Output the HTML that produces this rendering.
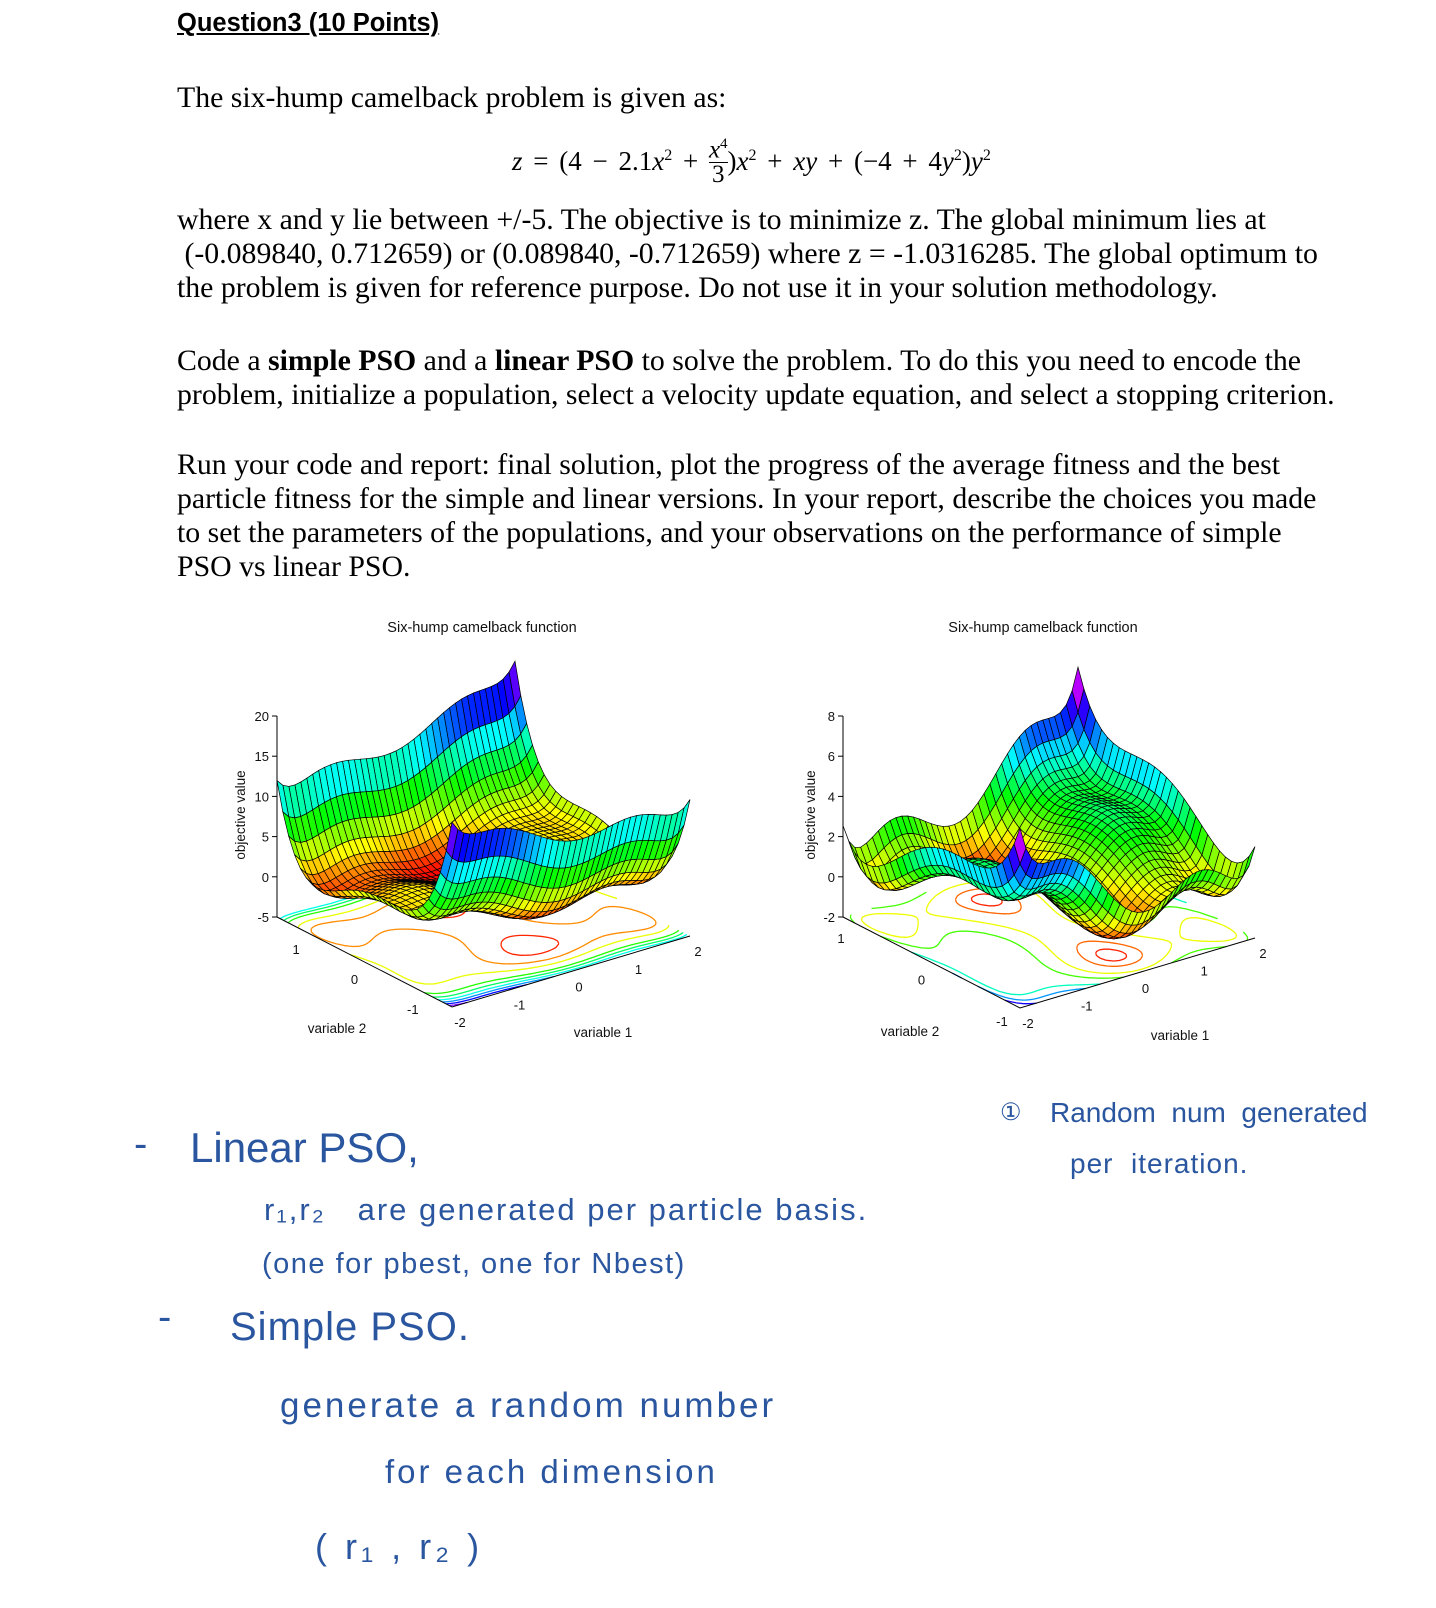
<!DOCTYPE html>
<html><head><meta charset="utf-8">
<style>
body{margin:0;background:#fff;}
#page{position:relative;width:1436px;height:1608px;overflow:hidden;background:#fff;font-family:"Liberation Serif",serif;color:#000;}
.t{position:absolute;white-space:nowrap;font-size:29.8px;line-height:34px;}
.hw{position:absolute;white-space:nowrap;font-family:"Liberation Sans",sans-serif;color:#2a56a0;font-weight:normal;}
svg text{font-family:"Liberation Sans",sans-serif;}
</style></head><body>
<div id="page">
<div class="t" style="left:177px;top:6px;font-family:'Liberation Sans',sans-serif;font-weight:bold;font-size:25.5px;text-decoration:underline;">Question3 (10 Points)</div>
<div class="t" style="left:177px;top:81px;">The six-hump camelback problem is given as:</div>
<div class="t" style="left:512px;top:136px;font-size:27px;word-spacing:4px;"><i>z</i> = (4 − 2.1<i>x</i><sup style="font-size:16px">2</sup> + <span style="display:inline-block;vertical-align:middle;text-align:center;line-height:24px;font-size:25px;position:relative;top:-4px"><span style="display:block;border-bottom:1px solid #000"><i>x</i><sup style="font-size:15px">4</sup></span><span style="display:block">3</span></span>)<i>x</i><sup style="font-size:16px">2</sup> + <i>xy</i> + (−4 + 4<i>y</i><sup style="font-size:16px">2</sup>)<i>y</i><sup style="font-size:16px">2</sup></div>
<div class="t" style="left:177px;top:203px;">where x and y lie between +/-5. The objective is to minimize z. The global minimum lies at<br>&nbsp;(-0.089840, 0.712659) or (0.089840, -0.712659) where z = -1.0316285. The global optimum to<br>the problem is given for reference purpose. Do not use it in your solution methodology.</div>
<div class="t" style="left:177px;top:344px;">Code a <b>simple PSO</b> and a <b>linear PSO</b> to solve the problem. To do this you need to encode the<br>problem, initialize a population, select a velocity update equation, and select a stopping criterion.</div>
<div class="t" style="left:177px;top:448px;">Run your code and report: final solution, plot the progress of the average fitness and the best<br>particle fitness for the simple and linear versions. In your report, describe the choices you made<br>to set the parameters of the populations, and your observations on the performance of simple<br>PSO vs linear PSO.</div>

<svg id="plots" width="1436" height="1608" style="position:absolute;left:0;top:0;pointer-events:none"></svg>

<div class="hw" style="left:134px;top:1122px;font-size:40px;">-</div>
<div class="hw" style="left:190px;top:1124px;font-size:42px;">Linear PSO,</div>
<div class="hw" style="left:264px;top:1192px;font-size:31px;letter-spacing:2px;">r₁,r₂ &nbsp;&nbsp;are generated per particle basis.</div>
<div class="hw" style="left:262px;top:1248px;font-size:29px;letter-spacing:1.5px;">(one for pbest, one for Nbest)</div>
<div class="hw" style="left:158px;top:1295px;font-size:40px;">-</div>
<div class="hw" style="left:230px;top:1305px;font-size:40px;letter-spacing:1px;">Simple PSO.</div>
<div class="hw" style="left:280px;top:1386px;font-size:35px;letter-spacing:3px;">generate a random number</div>
<div class="hw" style="left:385px;top:1453px;font-size:33px;letter-spacing:3px;">for each dimension</div>
<div class="hw" style="left:315px;top:1526px;font-size:36px;letter-spacing:4px;">( r₁ , r₂ )</div>
<div class="hw" style="left:1000px;top:1098px;font-size:24px;">①</div>
<div class="hw" style="left:1050px;top:1097px;font-size:28px;">Random &nbsp;num &nbsp;generated</div>
<div class="hw" style="left:1070px;top:1148px;font-size:28px;letter-spacing:1px;">per &nbsp;iteration.</div>
</div>
<script>
// chart data
const plotTitles = ["Six-hump camelback function","Six-hump camelback function"];
const xRange = [-2, 2];
const yRangeLeft = [-1.5, 1.5];
const yRangeRight = [-1.1, 1.1];
const zTicksLeft = [-5, 0, 5, 10, 15, 20];
const zTicksRight = [-2, 0, 2, 4, 6, 8];
const xTicks = [-2, -1, 0, 1, 2];
const yTicksLeft = [1, 0, -1];
const yTicksRight = [1, 0, -1];
const contourLevelsLeft = [-0.5, 1, 3, 6, 8, 10, 12, 14, 16];
const contourLevelsRight = [-0.9, -0.5, 0.5, 1.5, 3, 4, 5];

const NS="http://www.w3.org/2000/svg";
const svg=document.getElementById('plots');
function f(x,y){return (4-2.1*x*x+Math.pow(x,4)/3)*x*x+x*y+(-4+4*y*y)*y*y;}
function mk(tag,attrs,parent){const e=document.createElementNS(NS,tag);for(const k in attrs)e.setAttribute(k,attrs[k]);(parent||svg).appendChild(e);return e;}

function drawPlot(cfg){
  const g=mk('g',{});
  
  
  const F=cfg.front,R=cfg.right,L=cfg.left;
  const [x0,x1]=xRange,[y0,y1]=cfg.yr;
  const zs=cfg.zscale, zf=cfg.zfloor;
  function floorP(x,y){const u=(x-x0)/(x1-x0),v=(y-y0)/(y1-y0);return [F[0]+u*(R[0]-F[0])+v*(L[0]-F[0]),F[1]+u*(R[1]-F[1])+v*(L[1]-F[1])];}
  function P(x,y,z){const p=floorP(x,y);return [p[0],p[1]-(z-zf)*zs];}
  function col(z){let t=(z-cfg.clo)/(cfg.chi-cfg.clo);t=Math.max(0,Math.min(1,t));return 'hsl('+(t*285).toFixed(0)+',100%,50%)';}
  const tt=mk('text',{x:cfg.titleX,y:632,'font-size':14.5,'text-anchor':'middle',fill:'#111'},g);tt.textContent=cfg.title;
  
  const nx=cfg.nx, ny=cfg.ny;
  const cn=60, cm=45;
  const cg=mk('g',{fill:'none','stroke-width':1.3},g);
  
  cfg.levels.forEach(lv=>{
    let d='';
    for(let i=0;i<cn;i++)for(let j=0;j<cm;j++){
      const xa=x0+(x1-x0)*i/cn, xb=x0+(x1-x0)*(i+1)/cn, ya=y0+(y1-y0)*j/cm, yb=y0+(y1-y0)*(j+1)/cm;
      const c=[[xa,ya,f(xa,ya)],[xb,ya,f(xb,ya)],[xb,yb,f(xb,yb)],[xa,yb,f(xa,yb)]];
      const pts=[];
      for(let k=0;k<4;k++){const a=c[k],b=c[(k+1)%4];if((a[2]-lv)*(b[2]-lv)<0){const t=(lv-a[2])/(b[2]-a[2]);pts.push(floorP(a[0]+t*(b[0]-a[0]),a[1]+t*(b[1]-a[1])));}}
      for(let k=0;k+1<pts.length;k+=2)d+='M'+pts[k][0].toFixed(1)+' '+pts[k][1].toFixed(1)+'L'+pts[k+1][0].toFixed(1)+' '+pts[k+1][1].toFixed(1);
    }
    if(d){const p=mk('path',{d:d,stroke:col(lv)},cg);}
  });
  const ax=mk('g',{stroke:'#000','stroke-width':1,fill:'none'},g);
  
  const Lc=floorP(x0,y1),Fc=floorP(x0,y0),Rc=floorP(x1,y0);
  mk('path',{d:`M${Lc[0]} ${Lc[1]}L${Fc[0]} ${Fc[1]}L${Rc[0]} ${Rc[1]}`},ax);
  const zt=cfg.zticks;
  const zTop=P(x0,y1,zt[zt.length-1]);
  mk('path',{d:`M${Lc[0]} ${Lc[1]}L${zTop[0]} ${zTop[1]}`},ax);
  zt.forEach(z=>{const p=P(x0,y1,z);mk('path',{d:`M${p[0]} ${p[1]}l-5 0`},ax);
    const t=mk('text',{x:p[0]-8,y:p[1]+5,'font-size':13,'text-anchor':'end',fill:'#111',stroke:'none'},g);t.textContent=z;
    });
  xTicks.forEach(x=>{const p=floorP(x,y0);const t=mk('text',{x:p[0]+8,y:p[1]+20,'font-size':13,'text-anchor':'middle',fill:'#111'},g);t.textContent=x;
    });
  cfg.yticks.forEach(y=>{const p=floorP(x0,y);const t=mk('text',{x:p[0]-10,y:p[1]+22,'font-size':13,'text-anchor':'middle',fill:'#111'},g);t.textContent=y;
    });
  const xl=mk('text',{x:cfg.xlab[0],y:cfg.xlab[1],'font-size':13.5,'text-anchor':'middle',fill:'#111'},g);xl.textContent='variable 1';
  
  const yl=mk('text',{x:cfg.ylab[0],y:cfg.ylab[1],'font-size':13.5,'text-anchor':'middle',fill:'#111'},g);yl.textContent='variable 2';
  
  const zl=mk('text',{x:0,y:0,'font-size':13.5,'text-anchor':'middle',fill:'#111',transform:`translate(${cfg.zlab[0]},${cfg.zlab[1]}) rotate(-90)`},g);zl.textContent='objective value';
  
  const sg=mk('g',{stroke:'#000','stroke-width':0.7},g);
  
  const cells=[];
  for(let i=0;i<nx;i++)for(let j=0;j<ny;j++){
    const xa=x0+(x1-x0)*i/nx, xb=x0+(x1-x0)*(i+1)/nx, ya=y0+(y1-y0)*j/ny, yb=y0+(y1-y0)*(j+1)/ny;
    const zz=[f(xa,ya),f(xb,ya),f(xb,yb),f(xa,yb)];
    const pts=[P(xa,ya,zz[0]),P(xb,ya,zz[1]),P(xb,yb,zz[2]),P(xa,yb,zz[3])];
    const key=floorP((xa+xb)/2,(ya+yb)/2)[1];
    cells.push({pts,z:(zz[0]+zz[1]+zz[2]+zz[3])/4,key});
  }
  cells.sort((a,b)=>a.key-b.key);
  cells.forEach(c=>{const p=mk('polygon',{points:c.pts.map(q=>q[0].toFixed(1)+','+q[1].toFixed(1)).join(' '),fill:col(c.z)},sg);
    });
}
drawPlot({name:'left-surface-plot',title:plotTitles[0],titleX:482,front:[452,1007],right:[690,936],left:[277,917],yr:yRangeLeft,zscale:8.04,zfloor:-5,clo:-1.1,chi:17,nx:40,ny:30,levels:contourLevelsLeft,zticks:zTicksLeft,yticks:yTicksLeft,xlab:[603,1037],ylab:[337,1033],zlab:[245,815]});
drawPlot({name:'right-surface-plot',title:plotTitles[1],titleX:1043,front:[1020,1008],right:[1255,938],left:[843,917],yr:yRangeRight,zscale:20.1,zfloor:-2,clo:-1.1,chi:6,nx:40,ny:30,levels:contourLevelsRight,zticks:zTicksRight,yticks:yTicksRight,xlab:[1180,1040],ylab:[910,1036],zlab:[815,815]});
</script>
</body></html>
